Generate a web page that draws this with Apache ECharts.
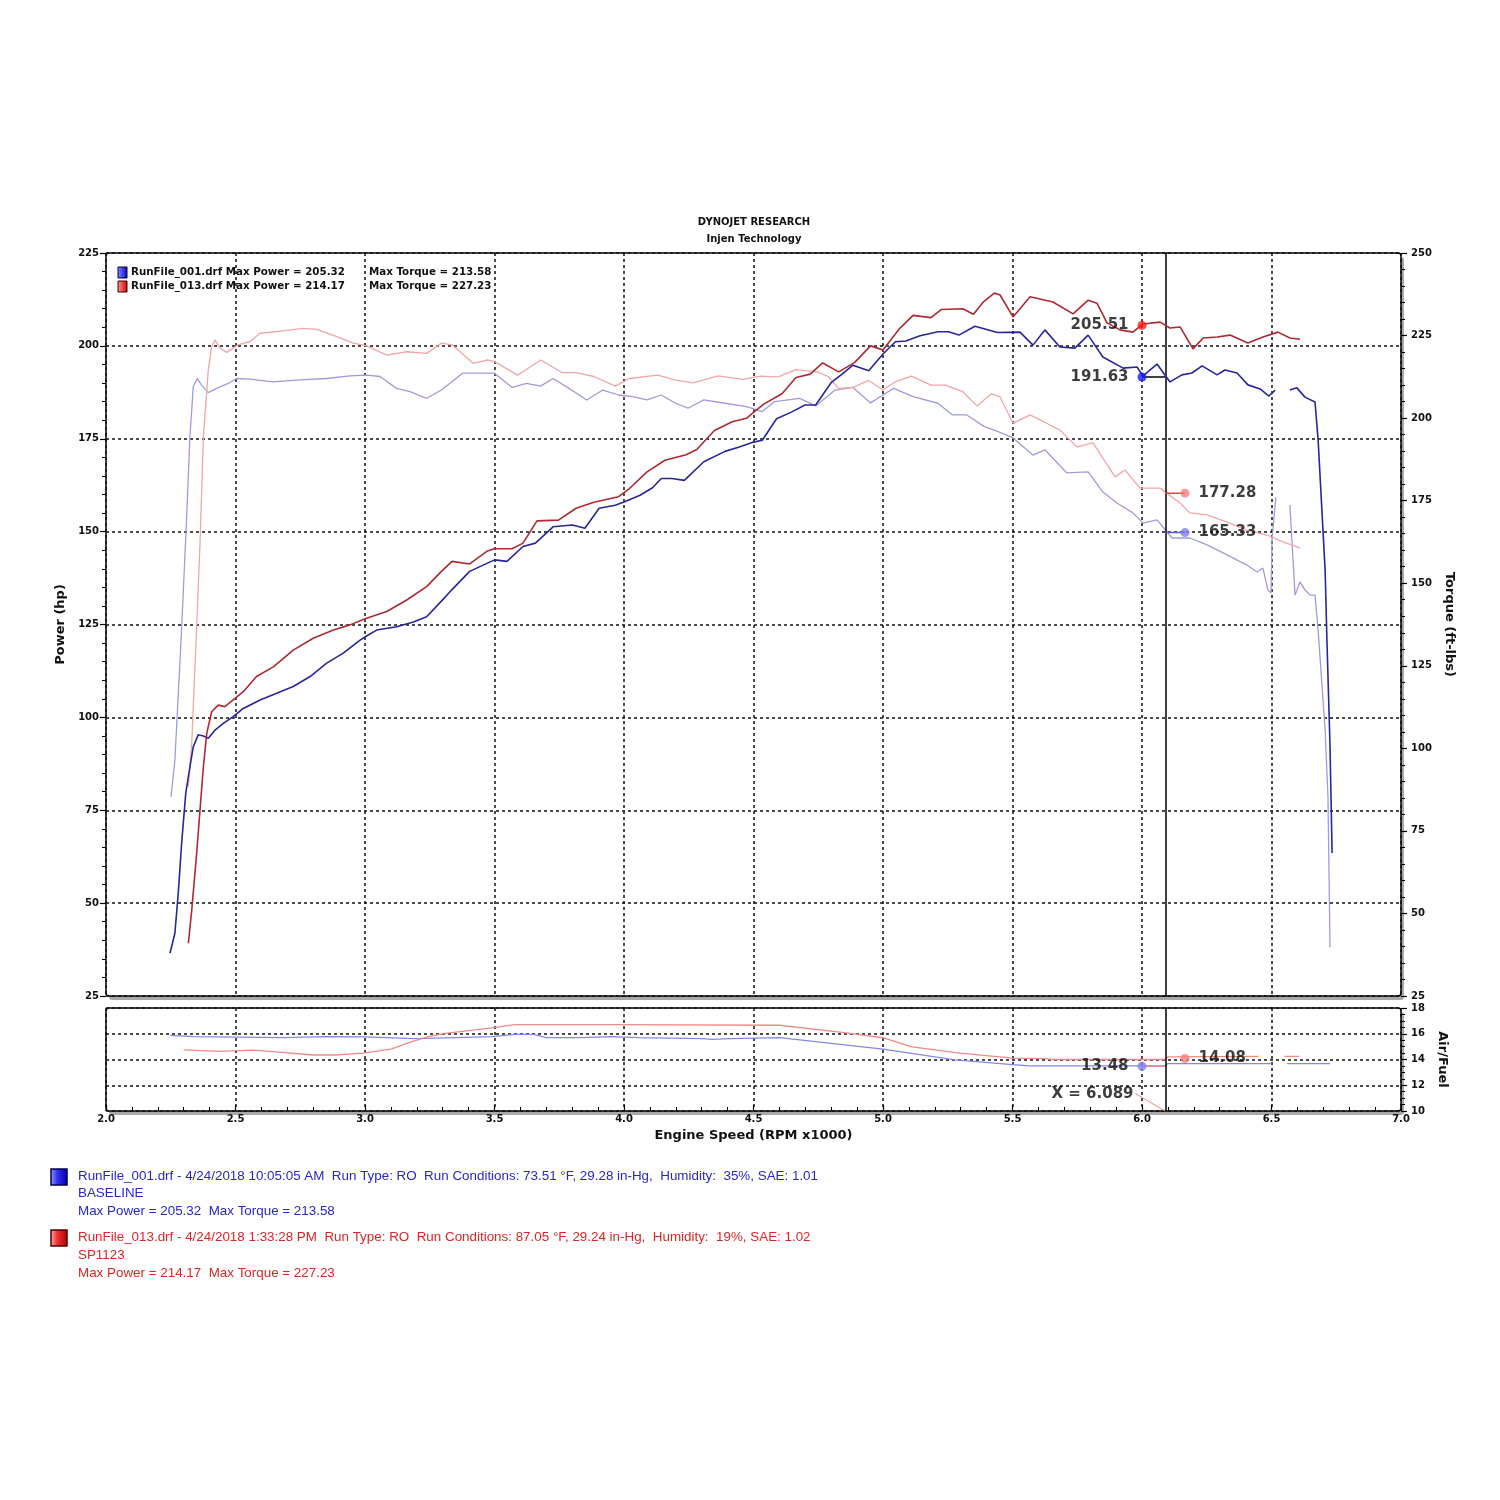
<!DOCTYPE html>
<html><head><meta charset="utf-8">
<script src="https://cdn.jsdelivr.net/npm/echarts@6/dist/echarts.min.js"></script>
<style>html,body{margin:0;padding:0;background:#fff}#c{width:1500px;height:1500px}</style>
</head><body><div id="c"></div><script>
// ---- data (rpm x1000, value) ----
const xTicks = [2.0, 2.5, 3.0, 3.5, 4.0, 4.5, 5.0, 5.5, 6.0, 6.5, 7.0];
const run001Power = [[2.247,36.5],[2.266,41.9],[2.279,52.7],[2.292,66.1],[2.308,79.6],[2.324,86.7],[2.337,92.1],[2.356,95.3],[2.376,95.0],[2.395,94.4],[2.421,96.6],[2.453,98.4],[2.491,100.2],[2.530,102.4],[2.595,104.7],[2.659,106.5],[2.723,108.3],[2.788,111.0],[2.852,114.6],[2.916,117.3],[2.981,120.8],[3.006,121.9],[3.045,123.5],[3.122,124.4],[3.187,125.7],[3.238,127.1],[3.295,131.3],[3.336,134.4],[3.404,139.3],[3.5,142.4],[3.548,142.0],[3.610,146.0],[3.658,146.9],[3.726,151.3],[3.801,151.8],[3.849,150.9],[3.904,156.3],[3.966,157.1],[4.0,158.0],[4.062,159.8],[4.110,161.8],[4.144,164.3],[4.185,164.3],[4.233,163.8],[4.308,168.8],[4.390,171.6],[4.445,172.8],[4.5,174.1],[4.534,174.6],[4.589,180.4],[4.644,182.1],[4.699,184.1],[4.740,184.1],[4.801,190.2],[4.842,192.4],[4.884,194.8],[4.945,193.3],[5.0,197.8],[5.048,201.1],[5.088,201.3],[5.143,202.7],[5.212,203.8],[5.253,203.8],[5.293,202.9],[5.355,205.3],[5.442,203.6],[5.529,203.7],[5.579,200.2],[5.625,204.3],[5.683,199.7],[5.741,199.4],[5.792,202.9],[5.849,197.0],[5.927,194.0],[5.981,194.3],[6.004,191.9],[6.058,195.1],[6.108,190.3],[6.154,192.2],[6.193,192.7],[6.232,194.6],[6.290,192.2],[6.320,193.5],[6.367,192.7],[6.409,189.5],[6.456,188.4],[6.490,186.5],[6.514,188.1],[6.540,'-'],[6.571,188.1],[6.598,188.7],[6.629,186.2],[6.668,184.9],[6.680,174.7],[6.707,139.7],[6.714,120.8],[6.726,92.0],[6.734,63.5]];
const run013Power = [[2.318,39.2],[2.331,48.1],[2.350,63.4],[2.363,75.1],[2.376,86.7],[2.389,95.7],[2.408,101.5],[2.433,103.3],[2.459,102.9],[2.491,104.7],[2.530,106.9],[2.581,111.0],[2.646,113.6],[2.723,118.1],[2.800,121.3],[2.878,123.5],[2.942,124.9],[3.006,126.7],[3.084,128.5],[3.161,131.6],[3.238,135.2],[3.295,139.3],[3.336,142.0],[3.404,141.3],[3.473,144.8],[3.5,145.4],[3.568,145.4],[3.610,146.9],[3.664,152.9],[3.747,153.1],[3.815,156.3],[3.884,157.9],[3.979,159.4],[4.021,161.6],[4.089,166.1],[4.158,169.2],[4.240,170.7],[4.281,172.1],[4.349,177.2],[4.418,179.6],[4.473,180.5],[4.5,182.1],[4.541,184.4],[4.610,187.1],[4.664,191.5],[4.719,192.4],[4.767,195.4],[4.829,193.0],[4.890,195.5],[4.952,200.0],[5.0,198.9],[5.062,204.5],[5.116,208.2],[5.185,207.6],[5.226,209.8],[5.308,210.0],[5.349,208.5],[5.390,212.0],[5.430,214.2],[5.452,213.7],[5.502,207.8],[5.568,213.2],[5.656,211.8],[5.734,208.6],[5.792,212.3],[5.826,211.5],[5.865,206.2],[5.915,204.3],[5.965,203.7],[6.004,205.9],[6.070,206.4],[6.108,204.8],[6.147,205.1],[6.197,199.2],[6.236,202.1],[6.290,202.4],[6.340,202.9],[6.409,200.8],[6.467,202.4],[6.525,203.7],[6.571,202.1],[6.610,201.8]];
const run001Torque = [[2.251,85.3],[2.266,96.5],[2.286,126.8],[2.297,145.0],[2.311,169.2],[2.324,194.4],[2.337,209.5],[2.352,212.0],[2.369,210.0],[2.395,207.7],[2.427,209.0],[2.472,210.5],[2.504,212.0],[2.556,211.8],[2.646,211.0],[2.749,211.6],[2.852,212.0],[2.942,212.8],[3.006,213.0],[3.058,212.6],[3.122,209.0],[3.174,208.0],[3.238,206.0],[3.295,208.5],[3.377,213.6],[3.5,213.6],[3.568,209.3],[3.623,210.5],[3.678,209.7],[3.726,212.0],[3.788,209.0],[3.856,205.5],[3.918,208.5],[3.979,207.0],[4.034,206.5],[4.089,205.5],[4.144,207.0],[4.199,204.5],[4.247,203.0],[4.308,205.5],[4.390,204.5],[4.473,203.5],[4.534,202.0],[4.582,205.0],[4.678,206.0],[4.740,203.7],[4.815,208.5],[4.884,209.3],[4.952,204.6],[5.0,207.0],[5.041,209.0],[5.116,206.5],[5.212,204.5],[5.267,201.0],[5.322,201.0],[5.390,197.5],[5.442,196.0],[5.502,194.0],[5.579,188.8],[5.625,190.4],[5.710,183.4],[5.792,183.7],[5.849,177.6],[5.903,174.3],[5.965,171.3],[6.004,168.2],[6.058,169.2],[6.097,165.5],[6.116,163.7],[6.185,163.7],[6.251,161.6],[6.328,158.6],[6.405,155.5],[6.444,153.4],[6.467,154.6],[6.486,148.0],[6.498,147.0],[6.502,163.1],[6.517,176.1],[6.545,'-'],[6.571,173.7],[6.591,146.4],[6.610,150.4],[6.629,148.0],[6.649,146.4],[6.668,146.4],[6.680,135.8],[6.707,105.6],[6.718,85.3],[6.726,39.8]];
const run013Torque = [[2.318,88.4],[2.331,101.5],[2.350,136.8],[2.363,162.0],[2.376,194.4],[2.395,214.6],[2.408,221.6],[2.421,223.7],[2.440,221.2],[2.466,219.9],[2.491,221.2],[2.510,222.2],[2.556,223.2],[2.595,225.7],[2.685,226.4],[2.761,227.2],[2.814,226.9],[2.891,224.7],[2.955,222.7],[3.006,221.9],[3.084,219.1],[3.161,220.1],[3.238,219.6],[3.295,222.7],[3.336,222.2],[3.418,216.6],[3.473,217.6],[3.5,217.1],[3.589,213.0],[3.678,217.6],[3.760,213.8],[3.815,213.8],[3.884,212.6],[3.966,209.7],[4.021,212.0],[4.130,213.0],[4.199,211.5],[4.267,210.7],[4.363,212.8],[4.459,211.7],[4.527,212.7],[4.596,212.5],[4.664,214.7],[4.747,214.0],[4.788,212.6],[4.829,209.0],[4.884,209.3],[4.945,211.4],[5.0,208.5],[5.048,211.0],[5.110,212.7],[5.185,210.0],[5.240,210.0],[5.308,208.0],[5.363,203.7],[5.418,207.4],[5.452,206.4],[5.502,198.5],[5.568,201.0],[5.645,197.9],[5.683,196.4],[5.749,191.3],[5.811,192.5],[5.896,182.2],[5.934,184.3],[5.992,178.8],[6.070,178.8],[6.147,174.3],[6.185,171.3],[6.251,170.7],[6.328,168.5],[6.405,166.1],[6.483,164.6],[6.544,162.5],[6.610,160.7]];
const run001Afr = [[2.248,15.87],[2.337,15.77],[2.69,15.70],[2.85,15.77],[3.0,15.75],[3.19,15.62],[3.35,15.70],[3.49,15.77],[3.578,15.95],[3.65,15.95],[3.70,15.70],[3.83,15.70],[3.95,15.77],[4.057,15.70],[4.305,15.62],[4.34,15.57],[4.41,15.62],[4.60,15.70],[5.0,14.80],[5.278,13.97],[5.5,13.6],[5.567,13.5],[6.089,13.5],[6.10,13.68],[6.5,13.68],[6.53,'-'],[6.56,13.68],[6.726,13.68]];
const run013Afr = [[2.30,14.75],[2.44,14.63],[2.567,14.73],[2.656,14.60],[2.80,14.35],[2.887,14.35],[2.993,14.50],[3.10,14.80],[3.17,15.31],[3.24,15.75],[3.31,16.03],[3.418,16.28],[3.49,16.46],[3.578,16.71],[3.95,16.71],[4.60,16.66],[4.85,16.08],[5.0,15.69],[5.107,15.0],[5.278,14.54],[5.5,14.1],[5.63,14.07],[5.65,14.0],[6.089,14.0],[6.10,14.2],[6.45,14.25],[6.48,'-'],[6.55,14.25],[6.607,14.25]];
// cursor readouts
const cursorX = 6.089;
const powerMarkX = 6.0, torqueMarkX = 6.166;
const cursorPower = {run001: 191.63, run013: 205.51};
const cursorTorque = {run001: 165.33, run013: 177.28};
const cursorAfr = {run001: 13.48, run013: 14.08};
const xLabelAnchor = [5.975, 11.35];

// ---- styles ----
const C = {
  blueDark: '#27279c', redDark: '#ad2a32',
  blueLight: '#9d9ddd', redLight: '#f2a6a6',
  blueAfr: '#8787e6', redAfr: '#f08a8a',
  dotRed: '#ff1a1a', dotBlue: '#1a1aff', dotRedL: '#f58080', dotBlueL: '#8080f5'
};
const F = 'DejaVu Sans';
const G0 = {left: 106, top: 253, width: 1295, height: 743};
const G1 = {left: 106, top: 1008, width: 1295, height: 103};
const gridLine = {show: true, lineStyle: {color: '#111', width: 1.5, type: [3, 3]}};

function line(name, data, xi, yi, color, w, z) {
  return {name, type: 'line', data, xAxisIndex: xi, yAxisIndex: yi, symbol: 'none',
    connectNulls: false, lineStyle: {color, width: w}, itemStyle: {color}, z: z || 3, animation: false};
}
function dot(value, x, xi, yi, color, pos) {
  return {type: 'scatter', xAxisIndex: xi, yAxisIndex: yi, symbolSize: 9, z: 10, animation: false,
    itemStyle: {color}, data: [[x, value]],
    label: {show: true, position: pos, distance: 9, formatter: value.toFixed(2),
      fontFamily: F, fontWeight: 'bold', fontSize: 15, color: '#0c0c0c'}};
}
function seg(a, b, v, xi, yi, color) {
  return line('', [[a, v], [b, v]], xi, yi, color, 1.5, 9);
}
function frame(g) {
  return [
    {type: 'rect', z: -20, silent: true, shape: {x: g.left + 3, y: g.top + 4, width: g.width, height: g.height, r: 3},
      style: {fill: '#a8a8a8'}},
    {type: 'rect', z: -19, silent: true, shape: {x: g.left, y: g.top, width: g.width, height: g.height, r: 3},
      style: {fill: '#fff', stroke: '#000', lineWidth: 1.5}}
  ];
}

const cursorMark = {symbol: 'none', silent: true, animation: false, label: {show: false},
  lineStyle: {color: '#000', width: 1.5, type: 'solid'}, data: [{xAxis: cursorX}]};

const s1 = line('run001Power', run001Power, 0, 0, C.blueDark, 1.6, 5);
s1.markLine = cursorMark;
const sA = line('run001Afr', run001Afr, 1, 2, C.blueAfr, 1.3, 4);
sA.markLine = cursorMark;

const nameStyle = {fontFamily: F, fontWeight: 'bold', fontSize: 13, color: '#111'};
const tickLbl = {fontFamily: F, fontWeight: 'bold', fontSize: 10, color: '#111'};

const option = {
  backgroundColor: '#fff',
  animation: false,
  grid: [Object.assign({show: false}, G0), Object.assign({show: false}, G1)],
  xAxis: [
    {type: 'value', gridIndex: 0, min: 2, max: 7, interval: 0.5,
      axisLine: {show: false}, axisTick: {show: false}, axisLabel: {show: false}, splitLine: gridLine},
    {type: 'value', gridIndex: 1, min: 2, max: 7, interval: 0.5,
      axisLine: {show: false},
      axisTick: {show: true, inside: true, length: 6, lineStyle: {color: '#000', width: 1.2}},
      minorTick: {show: true, splitNumber: 5, length: 4, lineStyle: {color: '#000', width: 1}},
      axisLabel: Object.assign({margin: 3, formatter: v => xTicks.includes(v) ? v.toFixed(1) : ''}, tickLbl),
      splitLine: gridLine,
      name: 'Engine Speed (RPM x1000)', nameLocation: 'middle', nameGap: 18, nameTextStyle: nameStyle}
  ],
  yAxis: [
    {type: 'value', gridIndex: 0, position: 'left', min: 25, max: 225, interval: 25,
      axisLine: {show: false},
      axisTick: {show: true, length: 6, lineStyle: {color: '#000', width: 1.2}},
      minorTick: {show: true, splitNumber: 5, length: 4, lineStyle: {color: '#000', width: 1}},
      axisLabel: Object.assign({margin: 7}, tickLbl),
      splitLine: gridLine,
      name: 'Power (hp)', nameLocation: 'middle', nameGap: 31, nameRotate: 90, nameTextStyle: nameStyle},
    {type: 'value', gridIndex: 0, position: 'right', min: 25, max: 250, interval: 25,
      axisLine: {show: false},
      axisTick: {show: true, length: 6, lineStyle: {color: '#000', width: 1.2}},
      minorTick: {show: true, splitNumber: 5, length: 4, lineStyle: {color: '#000', width: 1}},
      axisLabel: Object.assign({margin: 10}, tickLbl),
      splitLine: {show: false},
      name: 'Torque (ft-lbs)', nameLocation: 'middle', nameGap: 33, nameRotate: -90, nameTextStyle: nameStyle},
    {type: 'value', gridIndex: 1, position: 'right', min: 10, max: 18, interval: 2,
      axisLine: {show: false},
      axisTick: {show: true, length: 6, lineStyle: {color: '#000', width: 1.2}},
      minorTick: {show: true, splitNumber: 4, length: 4, lineStyle: {color: '#000', width: 1}},
      axisLabel: Object.assign({margin: 10}, tickLbl),
      splitLine: gridLine,
      name: 'Air/Fuel', nameLocation: 'middle', nameGap: 33, nameRotate: -90, nameTextStyle: nameStyle}
  ],
  series: [
    line('run001Torque', run001Torque, 0, 1, C.blueLight, 1.3, 3),
    line('run013Torque', run013Torque, 0, 1, C.redLight, 1.3, 3),
    s1,
    line('run013Power', run013Power, 0, 0, C.redDark, 1.6, 5),
    sA,
    line('run013Afr', run013Afr, 1, 2, C.redAfr, 1.3, 4),
    seg(powerMarkX, cursorX, cursorPower.run001, 0, 0, '#000'),
    seg(cursorX, torqueMarkX, cursorTorque.run013, 0, 1, '#d84848'),
    seg(cursorX, torqueMarkX, cursorTorque.run001, 0, 1, '#5a5ae0'),
    seg(powerMarkX, cursorX, cursorAfr.run001, 1, 2, C.redAfr),
    line('', [xLabelAnchor, [cursorX, 10]], 1, 2, C.redAfr, 1, 9),
    dot(cursorPower.run013, powerMarkX, 0, 0, C.dotRed, 'left'),
    dot(cursorPower.run001, powerMarkX, 0, 0, C.dotBlue, 'left'),
    dot(cursorTorque.run013, torqueMarkX, 0, 1, C.dotRedL, 'right'),
    dot(cursorTorque.run001, torqueMarkX, 0, 1, C.dotBlueL, 'right'),
    dot(cursorAfr.run001, powerMarkX, 1, 2, C.dotBlueL, 'left'),
    dot(cursorAfr.run013, torqueMarkX, 1, 2, C.dotRedL, 'right'),
    {type: 'scatter', xAxisIndex: 1, yAxisIndex: 2, symbolSize: 0, z: 10, animation: false,
      data: [xLabelAnchor],
      label: {show: true, position: 'left', distance: 2, formatter: 'X = ' + cursorX.toFixed(3),
        fontFamily: F, fontWeight: 'bold', fontSize: 15, color: '#0c0c0c'}}
  ],
  graphic: [].concat(frame(G0), frame(G1), [
    {type: 'text', x: 754, y: 217, style: {text: 'DYNOJET RESEARCH', align: 'center', fontFamily: F, fontWeight: 'bold', fontSize: 10, fill: '#111'}},
    {type: 'text', x: 754, y: 234, style: {text: 'Injen Technology', align: 'center', fontFamily: F, fontWeight: 'bold', fontSize: 10, fill: '#111'}},
    {type: 'rect', shape: {x: 118, y: 267, width: 9, height: 11}, z: 20,
      style: {fill: new echarts.graphic.LinearGradient(0, 0, 1, 0, [{offset: 0, color: '#8a8aff'}, {offset: 1, color: '#0000c8'}]), stroke: '#000040', lineWidth: 1}},
    {type: 'rect', shape: {x: 118, y: 281, width: 9, height: 11}, z: 20,
      style: {fill: new echarts.graphic.LinearGradient(0, 0, 1, 0, [{offset: 0, color: '#ff9a9a'}, {offset: 1, color: '#d00000'}]), stroke: '#400000', lineWidth: 1}},
    {type: 'text', x: 131, y: 267, z: 20, style: {text: 'RunFile_001.drf Max Power = 205.32', fontFamily: F, fontWeight: 'bold', fontSize: 10.3, fill: '#111'}},
    {type: 'text', x: 369, y: 267, z: 20, style: {text: 'Max Torque = 213.58', fontFamily: F, fontWeight: 'bold', fontSize: 10.3, fill: '#111'}},
    {type: 'text', x: 131, y: 281, z: 20, style: {text: 'RunFile_013.drf Max Power = 214.17', fontFamily: F, fontWeight: 'bold', fontSize: 10.3, fill: '#111'}},
    {type: 'text', x: 369, y: 281, z: 20, style: {text: 'Max Torque = 227.23', fontFamily: F, fontWeight: 'bold', fontSize: 10.3, fill: '#111'}},
    {type: 'rect', shape: {x: 51, y: 1169, width: 16, height: 16},
      style: {fill: new echarts.graphic.LinearGradient(0, 0, 1, 0, [{offset: 0, color: '#a0a0ff'}, {offset: 0.4, color: '#3030f0'}, {offset: 1, color: '#0000b0'}]), stroke: '#000050', lineWidth: 1.5}},
    {type: 'rect', shape: {x: 51, y: 1230, width: 16, height: 16},
      style: {fill: new echarts.graphic.LinearGradient(0, 0, 1, 0, [{offset: 0, color: '#ffb0b0'}, {offset: 0.4, color: '#f03030'}, {offset: 1, color: '#b00000'}]), stroke: '#500000', lineWidth: 1.5}},
    {type: 'text', x: 78, y: 1170, style: {text: 'RunFile_001.drf - 4/24/2018 10:05:05 AM  Run Type: RO  Run Conditions: 73.51 °F, 29.28 in-Hg,  Humidity:  35%, SAE: 1.01', fontFamily: 'Liberation Sans', fontSize: 13.4, fill: '#2828c8'}},
    {type: 'text', x: 78, y: 1187, style: {text: 'BASELINE', fontFamily: 'Liberation Sans', fontSize: 13.4, fill: '#2828c8'}},
    {type: 'text', x: 78, y: 1205, style: {text: 'Max Power = 205.32  Max Torque = 213.58', fontFamily: 'Liberation Sans', fontSize: 13.4, fill: '#2828c8'}},
    {type: 'text', x: 78, y: 1231, style: {text: 'RunFile_013.drf - 4/24/2018 1:33:28 PM  Run Type: RO  Run Conditions: 87.05 °F, 29.24 in-Hg,  Humidity:  19%, SAE: 1.02', fontFamily: 'Liberation Sans', fontSize: 13.4, fill: '#dc2626'}},
    {type: 'text', x: 78, y: 1249, style: {text: 'SP1123', fontFamily: 'Liberation Sans', fontSize: 13.4, fill: '#dc2626'}},
    {type: 'text', x: 78, y: 1267, style: {text: 'Max Power = 214.17  Max Torque = 227.23', fontFamily: 'Liberation Sans', fontSize: 13.4, fill: '#dc2626'}}
  ])
};
const chart = echarts.init(document.getElementById('c'), null, {renderer: 'canvas'});
chart.setOption(option);
</script></body></html>
